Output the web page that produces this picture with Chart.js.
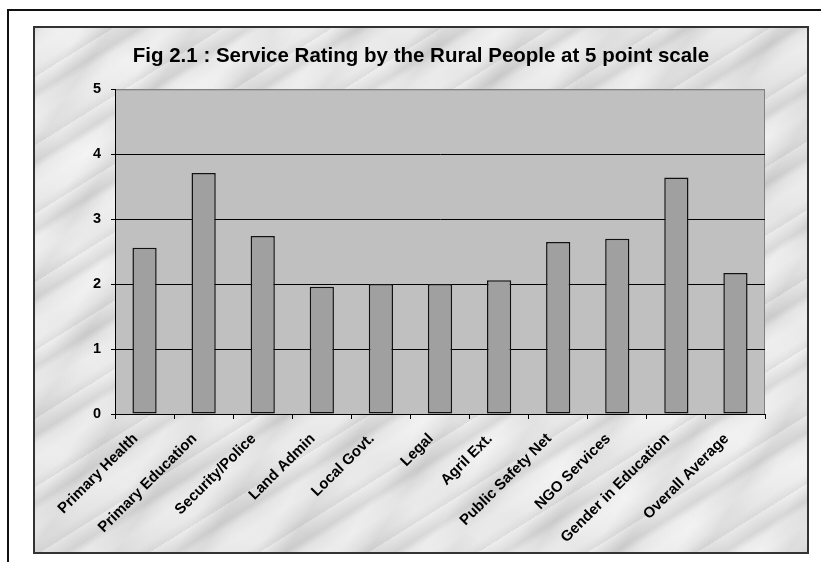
<!DOCTYPE html>
<html>
<head>
<meta charset="utf-8">
<title>Service Rating</title>
<script src="https://cdn.jsdelivr.net/npm/chart.js@4.4.1/dist/chart.umd.min.js"></script>
<style>
  html, body { margin: 0; padding: 0; background: #fff; }
  body { width: 821px; height: 562px; position: relative; overflow: hidden; }
  /* outer frame: only top and left edges fall inside the page */
  .frame {
    position: absolute; left: 7px; top: 9px; right: -10px; bottom: -10px;
    border-top: 2px solid #111; border-left: 2px solid #111;
  }
  /* chart panel with a soft marble-like backdrop */
  .panel {
    position: absolute; left: 33px; top: 26px; width: 776px; height: 528px;
    box-sizing: border-box; border: 2px solid #333;
    background-color: #e6e6e6;
    background-image:
      repeating-linear-gradient(-32deg, rgba(120,120,120,0.12) 0px, rgba(120,120,120,0.0) 9px, rgba(255,255,255,0.22) 24px, rgba(120,120,120,0.0) 37px, rgba(100,100,100,0.14) 44px, rgba(255,255,255,0.10) 58px),
      repeating-linear-gradient(-58deg, rgba(255,255,255,0.0) 0px, rgba(140,140,140,0.12) 17px, rgba(255,255,255,0.22) 41px, rgba(255,255,255,0.0) 71px),
      repeating-linear-gradient(24deg, rgba(150,150,150,0.0) 0px, rgba(150,150,150,0.08) 31px, rgba(255,255,255,0.0) 97px),
      radial-gradient(ellipse at 20% 30%, rgba(255,255,255,0.35), rgba(255,255,255,0) 60%),
      radial-gradient(ellipse at 80% 75%, rgba(255,255,255,0.30), rgba(255,255,255,0) 55%);
  }
  canvas { position: absolute; left: 0; top: 0; }
</style>
</head>
<body>
<div class="frame"></div>
<div class="panel">
  <canvas id="ratingChart" width="772" height="524"></canvas>
</div>
<script>
// Services rated by rural respondents (5 point scale)
const services = [
  'Primary Health',
  'Primary Education',
  'Security/Police',
  'Land Admin',
  'Local Govt.',
  'Legal',
  'Agril Ext.',
  'Public Safety Net',
  'NGO Services',
  'Gender in Education',
  'Overall Average'
];
const ratings = [2.56, 3.71, 2.74, 1.96, 2.00, 2.00, 2.06, 2.65, 2.70, 3.64, 2.17];
const yTicks = [0, 1, 2, 3, 4, 5];

const chartTitle = 'Fig 2.1 : Service Rating by the Rural People at 5 point scale';
const fontFamily = '"Liberation Sans", Arial, Helvetica, sans-serif';

// Grey plot area with a thin grey outline, like the spreadsheet chart
const plotBackground = {
  id: 'plotBackground',
  beforeDraw(chart) {
    const { ctx, chartArea: a } = chart;
    ctx.save();
    ctx.fillStyle = '#c0c0c0';
    ctx.fillRect(a.left, a.top, a.right - a.left, a.bottom - a.top);
    ctx.strokeStyle = '#808080';
    ctx.lineWidth = 1;
    ctx.strokeRect(a.left + 0.5, a.top + 0.5, a.right - a.left - 1, a.bottom - a.top);
    ctx.restore();
  }
};

new Chart(document.getElementById('ratingChart'), {
  type: 'bar',
  data: {
    labels: services,
    datasets: [{
      data: ratings,
      backgroundColor: '#a0a0a0',
      borderColor: '#111',
      borderWidth: 1.5,
      borderSkipped: false,
      categoryPercentage: 1.0,
      barPercentage: 0.41
    }]
  },
  options: {
    responsive: false,
    animation: false,
    layout: { padding: 0 },
    plugins: {
      legend: { display: false },
      tooltip: { enabled: false },
      title: {
        display: true,
        text: chartTitle,
        color: '#000',
        font: { family: fontFamily, size: 20.5, weight: 'bold' },
        padding: { top: 15.7, bottom: 21 }
      }
    },
    scales: {
      x: {
        offset: true,
        grid: {
          offset: true,
          drawOnChartArea: false,
          drawTicks: true,
          tickLength: 5,
          tickColor: '#000'
        },
        border: { color: '#000', width: 1 },
        ticks: {
          color: '#000',
          minRotation: 45,
          maxRotation: 45,
          padding: 11,
          labelOffset: -9,
          autoSkip: false,
          font: { family: fontFamily, size: 15, weight: 'bold' }
        },
        afterFit(scale) { scale.height = 138; }
      },
      y: {
        min: 0,
        max: 5,
        afterBuildTicks(scale) { scale.ticks = yTicks.map(v => ({ value: v })); },
        grid: {
          color: ctx => (ctx.tick && ctx.tick.value === 5) ? '#808080' : '#000',
          tickColor: '#000',
          tickLength: 4,
          lineWidth: 1
        },
        border: { color: '#000', width: 1 },
        ticks: {
          color: '#000',
          padding: 10,
          font: { family: fontFamily, size: 14.5, weight: 'bold' }
        },
        afterFit(scale) { scale.width = 80; }
      },
      // empty right-hand margin so the title stays centred on the panel
      gutter: {
        type: 'linear',
        position: 'right',
        display: true,
        grid: { display: false },
        border: { display: false },
        ticks: { display: false },
        afterFit(scale) { scale.width = 42; }
      }
    }
  },
  plugins: [plotBackground]
});
</script>
</body>
</html>
